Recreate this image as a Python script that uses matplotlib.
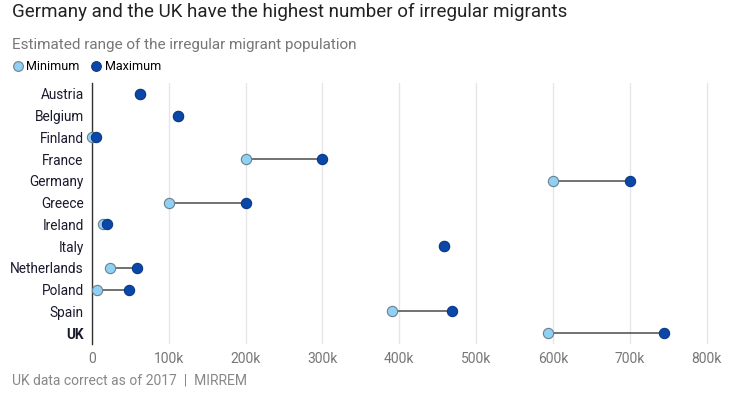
import matplotlib
matplotlib.use("Agg")
import matplotlib.pyplot as plt
from matplotlib.ticker import FuncFormatter
from matplotlib.lines import Line2D

countries = ["Austria", "Belgium", "Finland", "France", "Germany", "Greece",
             "Ireland", "Italy", "Netherlands", "Poland", "Spain", "UK"]
minimum = [62000, 112000, 0, 200000, 600000, 100000,
           14000, 458000, 23000, 6000, 391000, 594000]
maximum = [62000, 112000, 5000, 300000, 700000, 200000,
           20000, 458000, 58000, 48000, 469000, 745000]
xticks = [0, 100000, 200000, 300000, 400000, 500000, 600000, 700000, 800000]

plt.rcParams['font.family'] = ["Roboto", "DejaVu Sans"]

fig = plt.figure(figsize=(7.4, 3.96), dpi=100)
ax = fig.add_axes([92/740, 1-344/396, (722-92)/740, (344-83)/396])

min_col = "#8fd0f5"
max_col = "#0a47a9"

for i, (c, mn, mx) in enumerate(zip(countries, minimum, maximum)):
    if mx != mn:
        ax.plot([mn, mx], [i, i], color="#4a4a4a", lw=1.1, zorder=2, solid_capstyle='butt')
    ax.plot(mn, i, 'o', ms=7.4, mfc=min_col, mec="#6d7f8c", mew=0.8, zorder=3, clip_on=False)
    ax.plot(mx, i, 'o', ms=7.4, mfc=max_col, mec="#0a3a86", mew=0.8, zorder=4, clip_on=False)

ax.set_xlim(0, 820000)
ax.set_ylim(11.5, -0.5)
ax.set_xticks(xticks)
ax.xaxis.set_major_formatter(FuncFormatter(lambda v, p: "0" if v == 0 else f"{int(v/1000)}k"))
ax.set_yticks(range(len(countries)))
ax.set_yticklabels(countries)
for lab in ax.get_yticklabels():
    lab.set_fontsize(9.8)
    lab.set_color("#1a1a2e")
    if lab.get_text() == "UK":
        lab.set_fontweight("bold")
for lab in ax.get_xticklabels():
    lab.set_color("#777777")
    lab.set_fontsize(10)
ax.tick_params(axis='both', length=0)
ax.tick_params(axis='y', pad=6)
ax.tick_params(axis='x', pad=6)
ax.grid(axis='x', color="#e6e6e6", lw=1.0, zorder=0)
ax.set_axisbelow(True)
for s in ["top", "right", "bottom"]:
    ax.spines[s].set_visible(False)
ax.spines["left"].set_color("#333333")
ax.spines["left"].set_linewidth(1.0)
ax.spines["left"].set_zorder(1)

fig.text(12/740, 1-12/396, "Germany and the UK have the highest number of irregular migrants",
         fontsize=13.5, color="#222222", va="center", ha="left")
fig.text(12/740, 1-45/396, "Estimated range of the irregular migrant population",
         fontsize=11, color="#777777", va="center", ha="left")

handles = [Line2D([], [], ls='none', marker='o', ms=7, mfc=min_col, mec="#6d7f8c", mew=0.8),
           Line2D([], [], ls='none', marker='o', ms=7, mfc=max_col, mec="#0a3a86", mew=0.8)]
fig.legend(handles, ["Minimum", "Maximum"], loc="center left",
           bbox_to_anchor=(0/740, 1-67/396), ncol=2, frameon=False,
           handletextpad=0.2, columnspacing=0.8, handlelength=1.0,
           prop={"size": 9})

fig.text(12/740, 1-380/396, "UK data correct as of 2017  |  MIRREM",
         fontsize=10, color="#888888", va="center", ha="left")

fig.savefig("out.png", dpi=100)
